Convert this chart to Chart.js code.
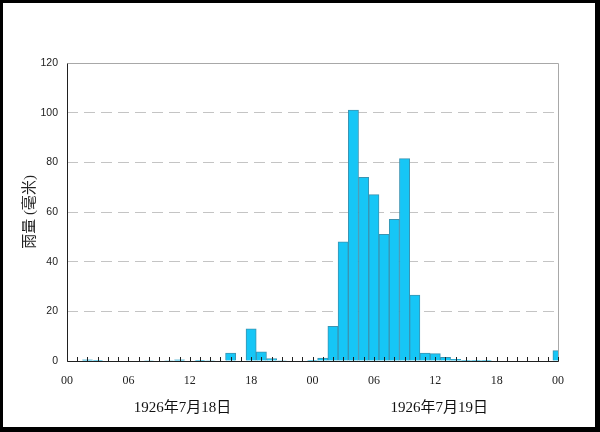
<!DOCTYPE html>
<html>
<head>
<meta charset="utf-8">
<script src="https://cdn.jsdelivr.net/npm/chart.js@4/dist/chart.umd.min.js"></script>
<style>
  html, body { margin: 0; padding: 0; background: #fff; }
  #wrap { width: 600px; height: 432px; box-sizing: border-box; background: #fff;
          border-style: solid; border-color: #000; border-width: 3px 5px 5px 3px; position: relative; }
  #c { display: block; }
</style>
</head>
<body>
<div id="wrap"><canvas id="c" width="592" height="424"></canvas></div>
<script>
// Hourly rainfall, hours 0..48 from 1926-07-18 00:00
const hours = [];
for (let h = 0; h <= 48; h++) hours.push(h);
const rainfall = [
  0, 0, 0.5, 0.3, 0, 0, 0, 0, 0.2, 0, 0.2, 0.5,
  0, 0.1, 0.2, 0, 3.2, 0, 13, 3.7, 1.0, 0.2, 0, 0,
  0.3, 1.2, 14, 48, 101, 74, 67, 51, 57, 81.5, 26.5, 3.2,
  3, 1.5, 0.7, 0.3, 0.1, 0.1, 0, 0, 0, 0, 0, 0,
  4.2
];
const tickLabels = ['00', '06', '12', '18', '00', '06', '12', '18', '00'];
const dayLabels = ['1926年7月18日', '1926年7月19日'];
const yTitle = '雨量 (毫米)';

const serifCJK = "'Liberation Serif', 'Noto Sans CJK TC', serif";

const framePlugin = {
  id: 'frame',
  afterDraw(chart) {
    const ctx = chart.ctx;
    const a = chart.chartArea;
    const xs = chart.scales.x;
    ctx.save();
    // gray plot border (top/right)
    ctx.strokeStyle = '#a8a8a8';
    ctx.lineWidth = 1;
    ctx.beginPath();
    ctx.moveTo(Math.round(a.left) + 0.5, Math.round(a.top) + 0.5);
    ctx.lineTo(Math.round(a.right) + 0.5, Math.round(a.top) + 0.5);
    ctx.lineTo(Math.round(a.right) + 0.5, Math.round(a.bottom) + 0.5);
    ctx.stroke();
    // dark axes (left/bottom)
    ctx.strokeStyle = '#202020';
    ctx.beginPath();
    ctx.moveTo(Math.round(a.left) + 0.5, Math.round(a.top) + 0.5);
    ctx.lineTo(Math.round(a.left) + 0.5, Math.round(a.bottom) + 0.5);
    ctx.lineTo(Math.round(a.right) + 0.5, Math.round(a.bottom) + 0.5);
    ctx.stroke();
    // hourly minor ticks pointing inward
    ctx.beginPath();
    hours.forEach(h => {
      const px = Math.round(xs.getPixelForValue(h)) + 0.5;
      ctx.moveTo(px, Math.round(a.bottom) + 0.5);
      ctx.lineTo(px, Math.round(a.bottom) - 4);
    });
    ctx.stroke();
    // date labels
    ctx.fillStyle = '#111';
    ctx.font = '15px ' + serifCJK;
    ctx.textAlign = 'center';
    ctx.textBaseline = 'middle';
    const dayCenters = [11.3, 36.4];
    dayLabels.forEach((t, i) => {
      ctx.fillText(t, xs.getPixelForValue(dayCenters[i]), 405);
    });
    ctx.restore();
  }
};

new Chart(document.getElementById('c'), {
  type: 'bar',
  data: {
    datasets: [{
      data: hours.map((h, i) => ({ x: h, y: rainfall[i] })),
      backgroundColor: '#16c6f6',
      borderColor: '#3a94b2',
      borderWidth: 1,
      barPercentage: 1,
      categoryPercentage: 1
    }]
  },
  options: {
    responsive: false,
    animation: false,
    events: [],
    layout: { padding: { left: 0, right: 37, top: 60, bottom: 0 } },
    plugins: { legend: { display: false }, tooltip: { enabled: false } },
    scales: {
      x: {
        type: 'linear',
        min: 0, max: 48,
        offset: false,
        grid: { display: false, drawTicks: false, offset: false },
        border: { display: false },
        ticks: {
          stepSize: 6,
          padding: 13,
          color: '#222',
          font: { family: serifCJK, size: 12 },
          maxRotation: 0,
          autoSkip: false,
          callback: (v) => tickLabels[Math.round(v / 6)]
        },
        afterFit(s) { s.height = 66; }
      },
      y: {
        min: 0, max: 120,
        grid: {
          drawTicks: false,
          color: (c) => (c.tick.value === 0 || c.tick.value === 120) ? 'rgba(0,0,0,0)' : '#c4c4c4',
          lineWidth: 1,
          tickBorderDash: [],
        },
        border: { display: false, dash: [11, 6] },
        ticks: {
          stepSize: 20,
          padding: 9,
          color: '#222',
          font: { family: "'Liberation Sans', Arial, sans-serif", size: 10.5 }
        },
        title: {
          display: true,
          text: yTitle,
          color: '#222',
          font: { family: serifCJK, size: 15 },
          padding: { top: 18, bottom: 0 }
        },
        afterFit(s) { s.width = 64; }
      }
    }
  },
  plugins: [framePlugin]
});
</script>
</body>
</html>
